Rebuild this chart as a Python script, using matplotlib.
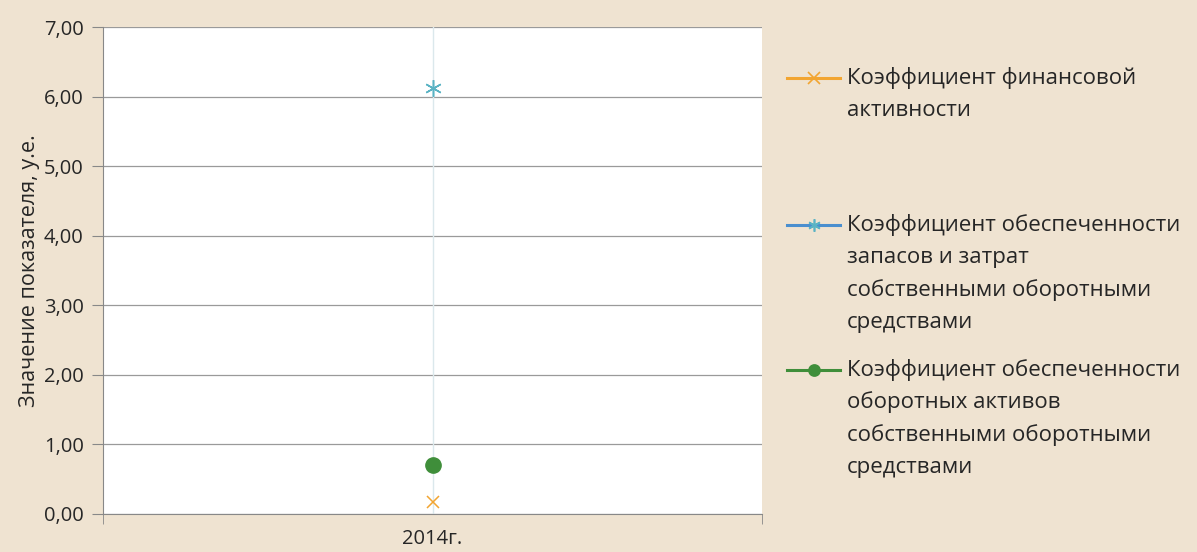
#!/usr/bin/env python3
import matplotlib
matplotlib.use('Agg')
import matplotlib.pyplot as plt
from matplotlib.lines import Line2D

# ===== Data
years       = ['2014г.']
k_fin_act   = [0.17]      # Коэффициент финансовой активности
k_zap       = [6.12]      # Коэффициент обеспеченности запасов и затрат СОС
k_oa        = [0.71]      # Коэффициент обеспеченности оборотных активов СОС

labels = ['Коэффициент финансовой\nактивности',
          'Коэффициент обеспеченности\nзапасов и затрат\nсобственными оборотными\nсредствами',
          'Коэффициент обеспеченности\nоборотных активов\nсобственными оборотными\nсредствами']
yticks = [0, 1, 2, 3, 4, 5, 6, 7]
ylabel = 'Значение показателя, у.е.'

# ===== Style
plt.rcParams['font.family'] = ['Open Sans', 'DejaVu Sans']
bg     = '#efe3d1'
tc     = '#262626'
c_or   = '#f2a531'
c_bl   = '#4a8fcf'
c_bl_m = '#5ab3c4'
c_gr   = '#3f8e3a'

fig = plt.figure(figsize=(11.97, 5.52), dpi=100, facecolor=bg)
ax  = fig.add_axes([103/1197, 1-514/552, (762-103)/1197, (514-27)/552])
ax.set_facecolor('white')

x = list(range(len(years)))
ax.axvline(x[0], color='#dbe8ec', lw=1.0, zorder=1)
ax.plot(x, k_fin_act, ls='none', marker='x', ms=9, mew=1.1, color=c_or, zorder=3)
ax.plot(x, k_zap, ls='none', marker=(6, 2, 0), ms=12, mew=1.1, color=c_bl_m, zorder=3)
ax.plot(x, k_oa, ls='none', marker='o', ms=11, color=c_gr, zorder=3)

ax.set_xlim(-0.5, 0.5)
ax.set_ylim(0, 7)
ax.set_yticks(yticks)
ax.set_yticklabels([('%.2f' % v).replace('.', ',') for v in yticks], fontsize=14.5, color=tc)
ax.set_xticks(x)
ax.set_xticklabels(years, fontsize=14.5, color=tc)
ax.tick_params(axis='x', length=0, pad=11)
ax.set_xticks([-0.5, 0.5], minor=True)
ax.tick_params(axis='x', which='minor', length=7, color='#888888')
ax.tick_params(axis='y', length=8, color='#888888', pad=6)
ax.yaxis.grid(True, color='#9a9a9a', lw=0.9)
ax.set_axisbelow(True)
for s in ['top', 'right']:
   ax.spines[s].set_visible(False)
for s in ['left', 'bottom']:
   ax.spines[s].set_color('#888888')
ax.set_ylabel(ylabel, fontsize=15.5, color=tc, labelpad=3)

# ===== Legend (drawn by hand, Excel-like)
colors  = [c_or, c_bl, c_gr]
mcolors = [c_or, c_bl_m, c_gr]
markers = ['x', (6, 2, 0), 'o']
msizes  = [8, 9, 8]
ytop    = [78, 225, 370]
lstep   = 32.5
for lab, c, mc, mk, ms, yt in zip(labels, colors, mcolors, markers, msizes, ytop):
   yf = 1 - yt/552
   fig.add_artist(Line2D([787/1197, 840/1197], [yf, yf], color=c, lw=2.2))
   fig.add_artist(Line2D([813.5/1197], [yf], color=mc, marker=mk, ms=ms, mew=1.2, ls='none'))
   for i, row in enumerate(lab.split('\n')):
      fig.text(847/1197, 1 - (yt + i*lstep)/552, row, fontsize=16, color=tc,
               va='center', ha='left')

plt.savefig('out.png', facecolor=bg)
plt.close()
